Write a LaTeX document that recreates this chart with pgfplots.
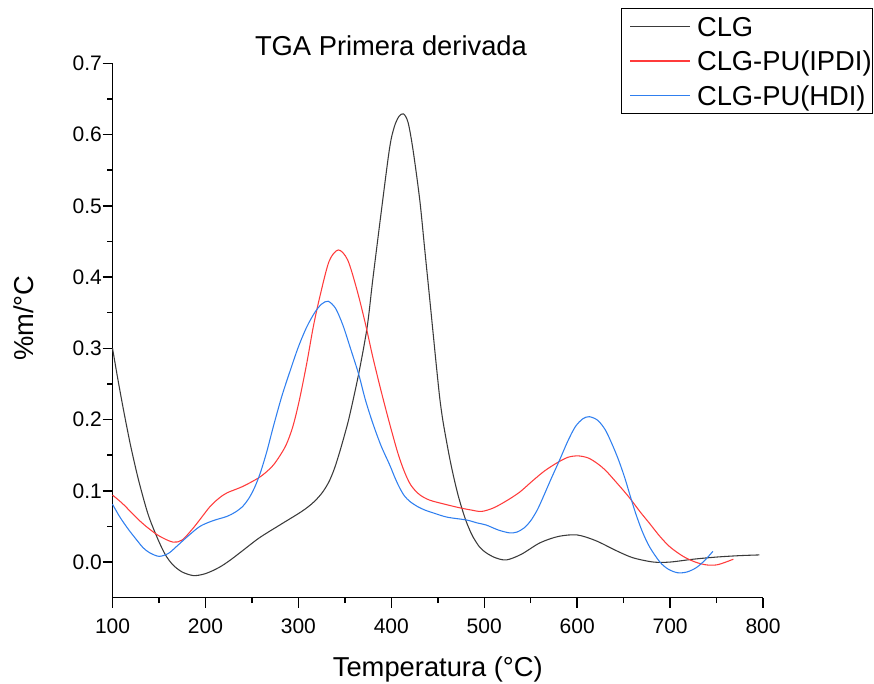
\documentclass[border=0pt]{standalone}
\usepackage{fontspec}
\setmainfont{Liberation Sans}
\usepackage{pgfplots}
\pgfplotsset{compat=1.18}
\definecolor{cblack}{HTML}{3A3A3A}
\definecolor{cred}{HTML}{FF3B3B}
\definecolor{cblue}{HTML}{2F7FEF}
\begin{document}
\begin{tikzpicture}
\useasboundingbox (0,0) rectangle (655.5pt,512.25pt);
\begin{axis}[
  at={(84.4pt,64.0pt)}, anchor=south west,
  scale only axis, width=487.9pt, height=400.8pt,
  xmin=100, xmax=800, ymin=-0.05, ymax=0.7,
  clip=false,
  axis x line*=bottom, axis y line*=left,
  axis line style={line width=1.1pt, -},
  xtick={100,200,300,400,500,600,700,800},
  ytick={0,0.1,0.2,0.3,0.4,0.5,0.6,0.7},
  minor x tick num=1, minor y tick num=1,
  tick align=outside, xtick align=outside, ytick align=outside,
  major tick length=7.5pt, minor tick length=4pt,
  tick style={black, line width=1.1pt},
  tick label style={font=\fontsize{15.75}{18}\selectfont},
  /pgf/number format/assume math mode=true,
  yticklabel style={xshift=3pt, /pgf/number format/.cd, fixed, fixed zerofill, precision=1},
  xticklabel style={yshift=-4.5pt, /pgf/number format/.cd, fixed, 1000 sep={}},
  legend cell align=left,
  legend image code/.code={\path[draw=none] (0pt,0pt) -- (6pt,0pt); \draw[#1] (6pt,0pt) -- (51pt,0pt);},
  legend style={at={(rel axis cs:1.1691,1.1035)}, anchor=north east,
    draw=black, line width=0.6pt,
    font=\fontsize{20.5}{20.5}\selectfont,
    inner xsep=0.75pt, inner ysep=6.5pt,
    nodes={inner sep=0pt, text height=14.7pt, text depth=0pt},
    row sep=10.95pt, column sep=4.5pt},
]
\addplot[cblack, line width=0.8pt, smooth] coordinates {
(100,0.300)(105,0.262)(110,0.226)(115,0.192)(120,0.160)(128,0.115)(138,0.068)(147.5,0.036)(156.5,0.011)(165,-0.004)(175,-0.014)(187,-0.019)(198,-0.017)(208,-0.012)(218,-0.005)(228,0.004)(240,0.016)(258,0.034)(280,0.052)(300,0.068)(310,0.077)(318,0.086)(326,0.098)(333,0.113)(339,0.132)(345,0.157)(350,0.180)(355,0.205)(365,0.265)(374,0.330)(380,0.396)(389,0.490)(398,0.580)(403,0.610)(408,0.625)(413,0.629)(418,0.617)(423.4,0.578)(430.6,0.508)(436,0.438)(441.4,0.368)(446.8,0.297)(449.5,0.262)(452.2,0.229)(454.8,0.204)(457.5,0.183)(462.9,0.145)(467.5,0.117)(472,0.093)(476,0.075)(480,0.059)(484,0.046)(488,0.035)(495,0.021)(502,0.013)(512,0.006)(524,0.003)(540,0.011)(560,0.027)(580,0.036)(600,0.038)(620,0.030)(642,0.016)(660,0.006)(682,0.000)(700,0.000)(725,0.004)(750,0.007)(775,0.009)(796,0.010)
};
\addlegendentry{CLG}
\addplot[cred, line width=0.8pt, smooth] coordinates {
(100,0.094)(110,0.083)(120,0.070)(130,0.057)(140,0.046)(151,0.036)(165,0.028)(175,0.031)(187,0.048)(196,0.063)(205,0.078)(214,0.089)(223,0.097)(240,0.106)(257,0.118)(266,0.127)(273,0.136)(280,0.149)(287,0.165)(294,0.190)(301,0.227)(309,0.279)(316,0.330)(323,0.372)(333,0.422)(343,0.438)(353,0.424)(363,0.382)(372,0.335)(380,0.288)(389,0.240)(398,0.195)(407,0.153)(414,0.127)(421,0.108)(430,0.095)(441,0.087)(458,0.081)(474,0.076)(486,0.073)(497,0.071)(510,0.076)(524,0.086)(538,0.098)(552,0.114)(565,0.128)(578,0.139)(590,0.147)(601,0.149)(612,0.146)(622,0.138)(631,0.128)(642,0.112)(650,0.100)(657,0.089)(668,0.070)(678,0.054)(689,0.036)(700,0.021)(714,0.008)(727,0.000)(739,-0.004)(750,-0.004)(760,0.000)(768,0.004)
};
\addlegendentry{CLG-PU(IPDI)}
\addplot[cblue, line width=0.8pt, smooth] coordinates {
(100,0.081)(108,0.063)(117,0.046)(126,0.031)(133,0.020)(140,0.013)(150,0.008)(160,0.012)(169,0.022)(180,0.035)(194,0.050)(208,0.058)(223,0.064)(232,0.070)(240,0.078)(247,0.090)(253,0.105)(259,0.125)(266,0.155)(273,0.190)(282,0.232)(291,0.268)(300,0.302)(309,0.330)(318,0.351)(325,0.362)(332,0.366)(340,0.356)(348,0.332)(356,0.300)(365,0.263)(372,0.228)(380,0.195)(389,0.163)(398,0.137)(404,0.118)(409,0.104)(414,0.093)(420,0.085)(428,0.078)(436,0.073)(445,0.069)(460,0.063)(481,0.059)(492,0.055)(502,0.052)(515,0.045)(527,0.041)(535,0.042)(543,0.048)(550,0.058)(557,0.073)(563,0.090)(572,0.117)(581,0.143)(590,0.170)(598,0.190)(606,0.201)(613,0.204)(622,0.199)(630,0.186)(637,0.167)(644,0.145)(651,0.119)(657,0.093)(663,0.068)(670,0.043)(678,0.021)(689,0.000)(698,-0.010)(708,-0.015)(718,-0.014)(728,-0.008)(737,0.002)(746,0.015)
};
\addlegendentry{CLG-PU(HDI)}
\node[anchor=base, font=\fontsize{20.5}{24}\selectfont] at (rel axis cs:0.428,1) [yshift=6.2pt] {TGA Primera derivada};
\node[anchor=base, font=\fontsize{20.5}{24}\selectfont] at (rel axis cs:0.5,0) [yshift=-59.3pt] {Temperatura (°C)};
\node[anchor=base, rotate=90, font=\fontsize{20.5}{24}\selectfont] at ([xshift=-59.6pt]rel axis cs:0,0.523) {\%m/°C};
\end{axis}
\end{tikzpicture}
\end{document}
